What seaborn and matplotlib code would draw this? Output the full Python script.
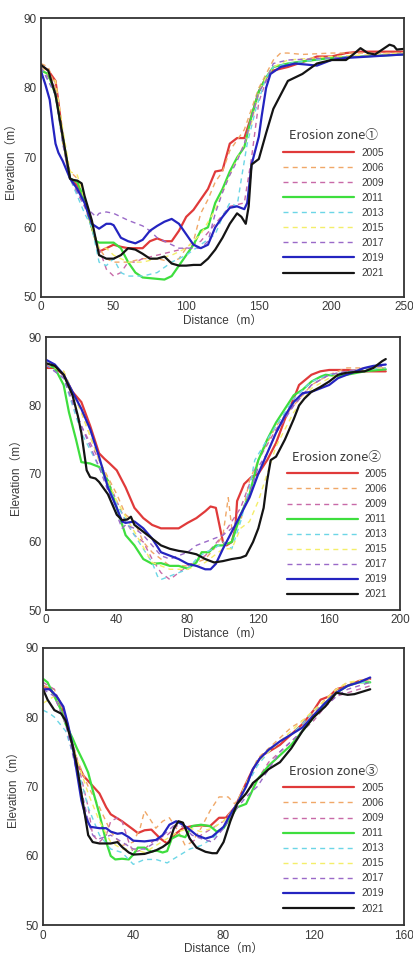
import matplotlib
matplotlib.use("Agg")
import matplotlib.pyplot as plt
import seaborn as sns
import pandas as pd

# profile data: (distance m, elevation m)
years = ["2005", "2006", "2009", "2011", "2013", "2015", "2017", "2019", "2021"]
colors = ["#e03a3a", "#f0a868", "#c86aa8", "#3ede3e", "#6cd6e6", "#f4ee6a", "#9a6ac8", "#2424c0", "#141414"]
dashed = [False, True, True, False, True, True, True, False, False]

zone1_2005 = [(0, 83.2), (5, 82.5), (10, 81), (12, 78), (15, 73), (18, 69), (20, 67), (25, 66), (30, 64), (35, 60),
              (40, 56.5), (45, 57), (50, 57.5), (55, 57.2), (60, 57), (70, 57), (75, 58), (80, 58.4), (85, 58), (90, 58),
              (95, 59.5), (100, 61.5), (105, 62.5), (110, 64), (115, 65.5), (120, 68), (125, 68.2), (130, 72), (135, 72.8),
              (140, 72.8), (145, 76), (150, 79.5), (155, 81.5), (160, 82.5), (170, 83), (180, 83.7), (190, 84.5),
              (200, 84.5), (210, 85), (220, 85.2), (250, 85.2)]
zone1_2006 = [(0, 83.5), (5, 83), (10, 80), (15, 72), (20, 68), (25, 67), (30, 64), (35, 60), (40, 57), (45, 55.5),
              (50, 55), (60, 55), (70, 55.5), (80, 55.5), (90, 55), (95, 55.5), (100, 57), (105, 58), (110, 62), (115, 64),
              (120, 66.5), (125, 68), (130, 71), (135, 72.5), (140, 74), (145, 77), (150, 80), (155, 82), (160, 84),
              (165, 85), (170, 85), (180, 84.8), (200, 85), (250, 85)]
zone1_2009 = [(0, 83), (10, 80), (15, 73), (20, 67), (30, 63), (35, 60), (40, 57), (45, 54), (50, 53), (55, 53.5),
              (60, 55), (65, 55), (70, 55.5), (80, 56), (90, 56.5), (100, 57), (110, 58), (120, 60.5), (130, 63),
              (140, 63.5), (145, 70), (150, 78), (155, 81), (160, 83), (170, 83.5), (200, 84.3), (250, 85)]
zone1_2011 = [(0, 82.5), (5, 82), (10, 79), (15, 73), (20, 67), (25, 66.5), (30, 64), (35, 60), (38, 58), (40, 57.8),
              (50, 57.8), (55, 57), (60, 55), (65, 53.5), (70, 52.8), (80, 52.6), (85, 52.5), (90, 53), (95, 54.5),
              (100, 56), (105, 57.5), (110, 59.5), (115, 60), (120, 63.5), (125, 65.5), (130, 68), (135, 70),
              (140, 71.5), (145, 76), (150, 79.5), (155, 81.5), (160, 83), (170, 83.5), (180, 83.8), (200, 84.3),
              (250, 84.8)]
zone1_2013 = [(0, 83), (10, 79), (15, 72), (20, 67), (30, 62), (35, 60), (40, 55), (45, 54.5), (50, 55.5), (55, 53.5),
              (60, 53), (70, 53), (80, 53.5), (90, 55), (100, 56), (110, 57.5), (120, 59), (125, 61.5), (130, 63.5),
              (135, 63), (138, 67), (142, 72), (148, 77), (155, 81.5), (160, 83), (170, 83.5), (200, 84.3), (250, 84.8)]
zone1_2015 = [(0, 83), (10, 81), (15, 74), (20, 68), (25, 67.5), (30, 64), (35, 60), (40, 57), (45, 57), (50, 56),
              (60, 55), (70, 55), (80, 55.5), (90, 56), (100, 57), (110, 59), (120, 62.5), (130, 67.5), (140, 72),
              (145, 75), (150, 79.5), (155, 81.5), (160, 83), (170, 84), (200, 84.5), (250, 85)]
zone1_2017 = [(0, 83), (10, 79), (15, 72), (20, 67), (30, 63), (38, 61.5), (40, 62), (45, 62.2), (50, 62), (60, 61),
              (70, 60.2), (75, 59.5), (80, 58.5), (85, 58), (90, 57.5), (95, 57), (100, 57), (110, 57), (115, 58),
              (120, 62), (125, 65), (130, 67.5), (135, 69.5), (140, 72), (145, 75.5), (150, 79.5), (155, 81),
              (160, 83.5), (170, 84), (200, 84.3), (250, 84.8)]
zone1_2019 = [(0, 82.4), (3, 80.5), (6, 78.3), (8, 75), (10, 72), (12, 70.7), (15, 69.5), (18, 68), (20, 67), (25, 65.5),
              (30, 63.5), (35, 60.5), (40, 59.8), (45, 60.5), (48, 60.5), (50, 60.3), (55, 58.5), (60, 58), (65, 57.7),
              (70, 58.2), (75, 59.5), (80, 60.2), (85, 60.8), (90, 61.2), (95, 60.5), (100, 59), (105, 57.5), (110, 57),
              (115, 57.5), (120, 60), (125, 61.5), (130, 62.8), (135, 63), (140, 62.6), (142, 63.5), (145, 69),
              (150, 73), (152, 76), (155, 80), (158, 82), (165, 83), (175, 83.5), (190, 83.2), (200, 84), (210, 84.3),
              (250, 84.8)]
zone1_2021 = [(0, 83.3), (5, 82.5), (10, 79), (15, 73), (20, 67), (22, 66.8), (25, 66.7), (28, 66.3), (30, 64.5),
              (35, 61), (40, 56), (45, 55.5), (50, 55.5), (55, 56), (60, 57), (65, 56.8), (70, 56.2), (75, 55.5),
              (80, 55.5), (85, 55.8), (90, 54.8), (95, 54.5), (100, 54.5), (105, 54.6), (110, 54.6), (115, 55.5),
              (120, 56.8), (125, 58.5), (130, 60.5), (135, 62), (138, 61.5), (141, 60.5), (143, 63), (145, 69),
              (150, 69.8), (155, 73.5), (160, 77), (165, 79), (170, 81), (175, 81.5), (180, 82), (190, 83.5), (200, 84),
              (210, 84), (215, 84.8), (220, 85.7), (225, 85), (230, 84.8), (235, 85.5), (240, 86.2), (243, 86),
              (245, 85.5), (250, 85.6)]

zone2_2005 = [(0, 85.5), (5, 85.5), (10, 84.5), (15, 82), (20, 80.5), (25, 77), (30, 73), (33, 72.2), (36, 71.5),
              (40, 70.5), (45, 68), (50, 65), (55, 63.5), (60, 62.5), (65, 62), (70, 62), (75, 62), (80, 62.8),
              (85, 63.5), (90, 64.5), (93, 65.2), (96, 65), (100, 60), (102, 59.5), (105, 60), (107, 62), (108, 66),
              (112, 68.5), (116, 69.5), (120, 70), (125, 72), (130, 74.5), (135, 78), (140, 81), (143, 83), (150, 84.5),
              (155, 85), (160, 85.2), (170, 85.2), (180, 85), (192, 85)]
zone2_2006 = [(0, 86), (10, 85), (20, 79), (30, 72), (40, 67), (45, 64), (50, 63), (55, 60), (60, 58.5), (65, 57.5),
              (70, 56.5), (80, 56.5), (90, 57.5), (95, 59), (100, 61), (103, 66.5), (105, 62), (110, 63), (115, 69),
              (120, 72), (130, 77), (140, 80), (150, 83), (160, 84.5), (170, 85.5), (180, 85.5), (192, 85.5)]
zone2_2009 = [(0, 86), (10, 84), (20, 77), (30, 72), (40, 66), (45, 63), (50, 61), (55, 60), (60, 57.5), (65, 55.5),
              (70, 54.5), (75, 55.5), (80, 56.5), (90, 58), (100, 61), (105, 63), (110, 65), (120, 72), (130, 76.5),
              (140, 80), (150, 83), (160, 84.5), (170, 85), (180, 85.5), (192, 85.5)]
zone2_2011 = [(0, 86), (5, 85.5), (10, 83), (13, 79), (17, 75), (20, 71.7), (25, 71.5), (30, 71), (35, 69), (40, 65),
              (45, 61), (50, 59.5), (55, 57.5), (60, 56.8), (65, 56.9), (70, 56.5), (75, 56.5), (80, 56.1), (85, 57),
              (88, 58.5), (92, 58.5), (96, 59.5), (100, 59.5), (105, 60), (110, 64), (115, 67), (120, 72), (125, 75),
              (130, 77.5), (135, 79.5), (140, 81.5), (145, 82.3), (150, 83.5), (155, 84.2), (158, 84.5), (165, 84.3),
              (170, 84.5), (180, 85), (192, 85.3)]
zone2_2013 = [(0, 86), (10, 84), (20, 76), (30, 71), (40, 65.5), (50, 61), (55, 59), (60, 57), (63, 55), (65, 54.5),
              (70, 55), (75, 55.5), (80, 56), (85, 57.5), (90, 58.5), (95, 59), (100, 60), (105, 59), (110, 63),
              (115, 68), (118, 72), (125, 75), (130, 77), (140, 81), (150, 83.5), (160, 84.5), (180, 85.3), (192, 85.5)]
zone2_2015 = [(0, 86), (10, 85), (20, 79), (30, 72), (40, 66), (50, 61.5), (60, 57), (70, 56), (80, 56), (90, 57),
              (100, 59), (105, 59), (110, 62), (115, 63), (120, 66), (125, 70), (130, 74), (140, 79), (150, 82.5),
              (160, 84), (170, 85), (180, 85.5), (192, 85.5)]
zone2_2017 = [(0, 86), (10, 84), (20, 77), (30, 71), (40, 64), (43, 62), (45, 62.5), (50, 62), (55, 61), (60, 59.5),
              (65, 58), (70, 57.5), (75, 58), (80, 58.5), (85, 59.5), (90, 60), (95, 60.5), (100, 61), (105, 62),
              (110, 64), (115, 67), (120, 71), (125, 73), (130, 76), (140, 80), (150, 83), (160, 84.5), (170, 85),
              (180, 85.5), (192, 85.8)]
zone2_2019 = [(0, 86.7), (5, 86), (10, 84.5), (15, 82), (20, 79.5), (25, 76.5), (30, 72.5), (35, 68), (40, 65),
              (43, 63), (45, 62.8), (50, 63), (55, 62), (60, 60.5), (65, 58.5), (70, 58), (75, 57.5), (80, 56.8),
              (85, 56.5), (90, 56), (93, 56), (96, 56.8), (100, 59), (105, 61.5), (110, 64), (115, 66.5), (120, 70),
              (125, 73), (130, 76), (135, 78.5), (140, 80.5), (145, 81.8), (150, 82), (155, 82.5), (160, 83), (165, 84),
              (170, 84.5), (180, 85.5), (185, 85.8), (192, 86)]
zone2_2021 = [(0, 86.2), (5, 85.8), (10, 84.5), (15, 81.5), (18, 78.5), (20, 76), (23, 70.5), (25, 69.5), (28, 69.3),
              (30, 68.8), (35, 67), (40, 64), (43, 63.2), (46, 63.3), (48, 63.7), (50, 62.5), (55, 61.5), (60, 60.5),
              (65, 59.5), (70, 59), (75, 58.7), (80, 58.5), (85, 58.2), (90, 57.5), (95, 57), (100, 57.2), (105, 57.5),
              (110, 57.7), (113, 58), (117, 60), (120, 62), (123, 65), (125, 69), (127, 72), (130, 72.5), (135, 75),
              (140, 78), (143, 80), (146, 81), (150, 82), (155, 82.7), (160, 83.5), (165, 84.5), (170, 84.8), (180, 85),
              (185, 85.5), (190, 86.5), (192, 86.8)]

zone3_2005 = [(0, 84.5), (3, 84), (7, 82.5), (10, 80), (13, 76), (15, 73.5), (18, 71.5), (20, 70.8), (25, 69),
              (28, 67), (30, 66), (35, 65), (40, 63.8), (42, 63.3), (45, 63.7), (48, 63.8), (52, 62.5), (55, 61.8),
              (58, 63), (62, 64), (66, 64.3), (70, 64.4), (74, 64.3), (78, 65.5), (81, 65.5), (85, 67), (90, 70.5),
              (93, 72.5), (97, 74.5), (100, 75), (105, 76), (110, 77.5), (115, 79), (120, 81), (123, 82.5), (127, 83),
              (130, 84), (135, 84.5), (140, 85.2), (145, 85.5)]
zone3_2006 = [(0, 84.5), (5, 84), (10, 80), (15, 74), (20, 70), (25, 67), (30, 63.5), (35, 61.5), (40, 62), (43, 64),
              (45, 66.5), (48, 65), (50, 64), (53, 65), (56, 65.5), (60, 63.5), (63, 61.5), (66, 62), (70, 64),
              (74, 66.5), (78, 68.5), (82, 68.5), (85, 67.5), (90, 70), (95, 74), (100, 75.5), (105, 77), (110, 78.5),
              (115, 79.5), (120, 80.5), (125, 82.5), (130, 84), (135, 85), (145, 85)]
zone3_2009 = [(0, 85), (5, 84), (10, 80), (15, 74), (20, 67), (22, 63), (25, 62), (28, 63), (30, 65), (33, 65.5),
              (35, 65), (38, 62), (40, 60.5), (45, 61), (50, 62.5), (55, 63), (60, 64.5), (63, 64), (66, 62), (70, 63),
              (75, 64), (80, 65), (85, 67), (90, 69), (95, 71), (100, 73.5), (105, 75), (110, 76.5), (115, 78),
              (120, 79.5), (125, 81.5), (130, 83), (135, 83.5), (140, 84), (145, 84.5)]
zone3_2011 = [(0, 85.5), (2, 85), (5, 83), (8, 81), (10, 79), (13, 77), (15, 75.5), (18, 73.5), (20, 72), (22, 69.5),
              (25, 66), (28, 62), (30, 60), (32, 59.5), (35, 59.6), (38, 59.5), (40, 60.2), (42, 61.2), (45, 61.2),
              (48, 60.6), (50, 60.8), (53, 60.5), (55, 60.7), (57, 62.5), (60, 63), (63, 62.7), (66, 64.3), (70, 64.5),
              (74, 64.3), (77, 63.5), (80, 64), (83, 65.5), (86, 67), (90, 67.5), (95, 71), (100, 73), (105, 74.5),
              (110, 76), (115, 78), (120, 80), (125, 82), (130, 83.5), (135, 84.5), (140, 85), (145, 85)]
zone3_2013 = [(0, 81), (3, 80.5), (5, 80), (10, 78), (15, 73), (20, 67), (25, 63), (30, 61), (35, 60.5), (40, 58.8),
              (45, 59.5), (50, 59.5), (55, 59), (60, 60), (65, 61), (70, 61.5), (75, 62.5), (80, 64), (85, 67),
              (90, 70), (95, 73), (100, 75), (105, 76.5), (110, 77.5), (115, 79), (120, 81), (125, 82), (130, 83.5),
              (135, 84.5), (140, 85), (145, 85)]
zone3_2015 = [(0, 82), (5, 83), (10, 79), (15, 74), (20, 69), (25, 65), (30, 62), (35, 61), (40, 61), (45, 60.5),
              (50, 61.5), (55, 62.5), (60, 63.5), (65, 64), (70, 63.5), (75, 64), (80, 65), (85, 67), (90, 70.5),
              (95, 73.5), (100, 75), (105, 76.5), (110, 78), (115, 79.5), (120, 81), (125, 82.5), (130, 84), (135, 85),
              (145, 85.5)]
zone3_2017 = [(0, 84), (5, 83), (10, 79), (15, 72), (18, 68), (20, 65), (22, 63), (25, 62.5), (30, 63), (35, 62),
              (40, 61), (45, 61), (50, 62), (55, 63.5), (60, 65), (63, 64), (66, 63), (70, 62.5), (75, 62), (80, 64),
              (85, 66.5), (90, 68.5), (95, 70), (100, 72.5), (105, 75), (110, 76.5), (115, 78), (120, 80), (125, 81.5),
              (130, 83), (135, 84), (140, 84.5), (145, 85)]
zone3_2019 = [(0, 84), (3, 84), (6, 83), (9, 81.5), (11, 79), (13, 76), (15, 72), (17, 68), (19, 65.5), (21, 64.2),
              (25, 64), (28, 64), (30, 63.5), (33, 63.2), (35, 63.3), (38, 62.7), (40, 62.2), (45, 62.1), (50, 62.3),
              (53, 63), (56, 64.5), (59, 65), (62, 64.5), (65, 63.8), (68, 63), (72, 62.5), (75, 62.8), (80, 64.2),
              (83, 66), (86, 67.5), (90, 70), (93, 72.5), (96, 74), (100, 75.3), (105, 76.5), (110, 77.5), (115, 78.5),
              (120, 80.3), (125, 82), (130, 83.5), (135, 84.5), (140, 85), (145, 85.7)]
zone3_2021 = [(0, 84), (2, 82.5), (5, 81), (8, 80.5), (10, 79.5), (13, 76), (15, 73), (18, 67), (20, 63), (22, 62),
              (25, 61.8), (30, 61.8), (33, 62), (35, 61.3), (38, 60.5), (40, 60.2), (45, 60.3), (50, 60.8), (53, 61.3),
              (56, 62), (58, 64), (60, 65), (62, 64.8), (65, 62.5), (68, 61.2), (72, 60.6), (75, 60.4), (77, 60.4),
              (80, 62), (83, 65), (86, 67.5), (90, 69), (93, 70.5), (96, 71.3), (100, 72.5), (105, 73.5), (110, 75.5),
              (115, 78), (120, 80), (125, 81.5), (130, 83.5), (135, 83.2), (138, 83.3), (142, 83.7), (145, 84)]

zones = [
    ("Erosion zone\u2460", [zone1_2005, zone1_2006, zone1_2009, zone1_2011, zone1_2013, zone1_2015, zone1_2017, zone1_2019, zone1_2021], 250, [0, 50, 100, 150, 200, 250]),
    ("Erosion zone\u2461", [zone2_2005, zone2_2006, zone2_2009, zone2_2011, zone2_2013, zone2_2015, zone2_2017, zone2_2019, zone2_2021], 200, [0, 40, 80, 120, 160, 200]),
    ("Erosion zone\u2462", [zone3_2005, zone3_2006, zone3_2009, zone3_2011, zone3_2013, zone3_2015, zone3_2017, zone3_2019, zone3_2021], 160, [0, 40, 80, 120, 160]),
]

sns.set_style("white")
plt.rcParams["font.family"] = ["Liberation Sans", "Noto Sans CJK SC", "DejaVu Sans"]

fig = plt.figure(figsize=(4.14, 9.58), dpi=100)
boxes = [(0.099, 0.690, 0.877, 0.291),
         (0.111, 0.363, 0.855, 0.285),
         (0.104, 0.034, 0.872, 0.290)]
leg_anchor = [(0.97, 0.035), (0.99, 0.006), (0.97, 0.01)]

txt = "#3a3a3a"
for (title, series, xmax, xt), box, anc in zip(zones, boxes, leg_anchor):
    ax = fig.add_axes(box)
    for yr, pts, c, d in zip(years, series, colors, dashed):
        df = pd.DataFrame(pts, columns=["Distance", "Elevation"])
        sns.lineplot(data=df, x="Distance", y="Elevation", ax=ax, color=c,
                     linestyle=(0, (3.6, 3)) if d else "-",
                     linewidth=1.0 if d else 1.6, label=yr, sort=False)
    ax.set_xlim(0, xmax)
    ax.set_ylim(50, 90)
    ax.set_xticks(xt)
    ax.set_yticks([50, 60, 70, 80, 90])
    ax.tick_params(direction="in", length=2.5, width=0.8, labelsize=8.5, colors=txt, pad=3)
    for s in ax.spines.values():
        s.set_color("#333333")
        s.set_linewidth(1.3)
    ax.set_xlabel("Distance（m）", fontsize=8.5, color=txt, labelpad=1)
    ax.set_ylabel("Elevation（m）", fontsize=8.5, color=txt, labelpad=5)
    leg = ax.legend(loc="lower right", bbox_to_anchor=anc, frameon=False,
                    fontsize=7.3, handlelength=7.0, labelspacing=0.5, handletextpad=0.7,
                    title=title, title_fontproperties={"family": ["Noto Sans CJK SC"], "size": 9.2})
    leg.get_title().set_color(txt)
    for t in leg.get_texts():
        t.set_color(txt)

fig.savefig("out.png", dpi=100)
